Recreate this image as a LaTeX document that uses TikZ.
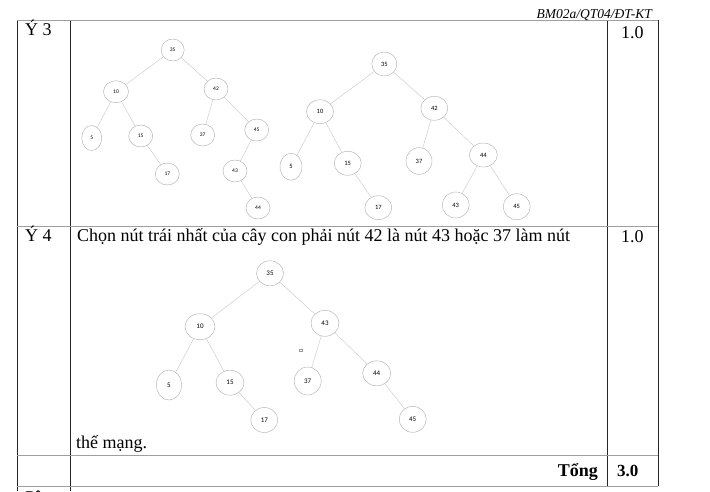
\documentclass[tikz,border=0pt]{standalone}
\usepackage{fontspec}
\setmainfont{Liberation Serif}
\newfontfamily\nodefont{Carlito}
\usetikzlibrary{shapes.geometric}
\tikzset{
  tnode/.style={ellipse, draw=gray!60, line width=0.45pt, inner sep=0pt, minimum width=24pt, minimum height=22pt, font=\nodefont\fontsize{5.5}{6}\selectfont},
  mnode/.style={tnode, minimum width=27pt, minimum height=24pt, font=\nodefont\fontsize{6.5}{7}\selectfont},
  bnode/.style={tnode, minimum width=28pt, minimum height=25pt, font=\nodefont\fontsize{7}{8}\selectfont},
  tedge/.style={draw=gray!45, line width=0.4pt},
  vrule/.style={draw=black!85, line width=0.7pt},
  hrule/.style={draw=gray!75, line width=0.7pt},
  txt/.style={font=\fontsize{18}{21}\selectfont, inner sep=0pt, anchor=base west},
}
\begin{document}
\begin{tikzpicture}[x=1pt,y=-1pt]
\useasboundingbox (0,0) rectangle (710,491);
% table
\draw[vrule] (17,20) -- (17,491);
\draw[vrule] (70,20) -- (70,491);
\draw[vrule] (607,20) -- (607,486);
\draw[vrule] (658,20) -- (658,486);
\draw[hrule] (17,20) -- (658,20);
\draw[hrule] (17,226) -- (658,226);
\draw[hrule] (17,455) -- (658,455);
\draw[hrule] (17,486) -- (658,486);
\node[font=\itshape\fontsize{13.5}{15}\selectfont, inner sep=0pt, anchor=base east] (code) at (652,18) {BM02a/QT04/ĐT-KT};
\node[txt] (y3) at (25,35) {Ý 3};
\node[txt] (s3) at (621,38) {1.0};
\node[txt] (y4) at (25,241) {Ý 4};
\node[txt] (s4) at (621,242) {1.0};
\node[txt] (chon) at (77,241) {Chọn nút trái nhất của cây con phải nút 42 là nút 43 hoặc 37 làm nút};
\node[txt] (the) at (76,448) {thế mạng.};
\node[txt, anchor=base east, font=\bfseries\fontsize{18}{21}\selectfont] (tong) at (598,476) {Tổng};
\node[txt, font=\bfseries\fontsize{17}{20}\selectfont] (tot) at (617,476) {3.0};
\node[txt] (cau) at (22,503) {Câu};
% tree 1
\node[tnode, minimum width=23pt] (a35) at (172.7,50) {35};
\node[tnode, minimum width=25pt] (a10) at (116,91.7) {10};
\node[tnode] (a42) at (216,89) {42};
\node[tnode, minimum width=20pt, minimum height=25pt] (a5) at (91.7,138) {5};
\node[tnode] (a15) at (140.7,136) {15};
\node[tnode] (a37) at (202.7,135) {37};
\node[tnode] (a45) at (256.7,130) {45};
\node[tnode] (a17) at (167.3,174) {17};
\node[tnode] (a43) at (235,171) {43};
\node[tnode] (a44) at (258,208) {44};
\draw[tedge] (a35) -- (a10);
\draw[tedge] (a35) -- (a42);
\draw[tedge] (a10) -- (a5);
\draw[tedge] (a10) -- (a15);
\draw[tedge] (a15) -- (a17);
\draw[tedge] (a42) -- (a37);
\draw[tedge] (a42) -- (a45);
\draw[tedge] (a45) -- (a43);
\draw[tedge] (a43) -- (a44);
% tree 2
\node[mnode, minimum width=25pt] (b35) at (384.3,64) {35};
\node[mnode] (b10) at (320,111.7) {10};
\node[mnode] (b42) at (434.3,108.3) {42};
\node[mnode, minimum width=22pt, minimum height=27pt] (b5) at (291,166.7) {5};
\node[mnode] (b15) at (347.7,163.3) {15};
\node[mnode, minimum width=26pt, minimum height=27pt] (b37) at (419,161) {37};
\node[mnode, minimum width=28pt] (b44) at (483.3,155) {44};
\node[mnode] (b17) at (378.3,207.7) {17};
\node[mnode, minimum height=26pt] (b43) at (455.7,205) {43};
\node[mnode, minimum height=26pt] (b45) at (516.7,206.7) {45};
\draw[tedge] (b35) -- (b10);
\draw[tedge] (b35) -- (b42);
\draw[tedge] (b10) -- (b5);
\draw[tedge] (b10) -- (b15);
\draw[tedge] (b15) -- (b17);
\draw[tedge] (b42) -- (b37);
\draw[tedge] (b42) -- (b44);
\draw[tedge] (b44) -- (b43);
\draw[tedge] (b44) -- (b45);
% tree 3
\node[bnode, minimum width=27pt] (c35) at (270,273.3) {35};
\node[bnode, minimum width=30pt, minimum height=26pt] (c10) at (200,326.7) {10};
\node[bnode, minimum height=26pt] (c43) at (325,323.3) {43};
\node[bnode, minimum width=25pt, minimum height=30pt] (c5) at (169,385) {5};
\node[bnode] (c15) at (230,382.7) {15};
\node[bnode, minimum width=27pt, minimum height=28pt] (c37) at (307.7,381) {37};
\node[bnode] (c44) at (376.7,373.3) {44};
\node[bnode, minimum width=27pt] (c17) at (264.3,420) {17};
\node[bnode, minimum width=27pt, minimum height=26pt] (c45) at (412.7,419.3) {45};
\node[draw=gray!80, line width=0.4pt, inner sep=0pt, minimum width=3pt, minimum height=2.5pt] (mark) at (301,350) {};
\draw[tedge] (c35) -- (c10);
\draw[tedge] (c35) -- (c43);
\draw[tedge] (c10) -- (c5);
\draw[tedge] (c10) -- (c15);
\draw[tedge] (c15) -- (c17);
\draw[tedge] (c43) -- (c37);
\draw[tedge] (c43) -- (c44);
\draw[tedge] (c44) -- (c45);
\end{tikzpicture}
\end{document}
